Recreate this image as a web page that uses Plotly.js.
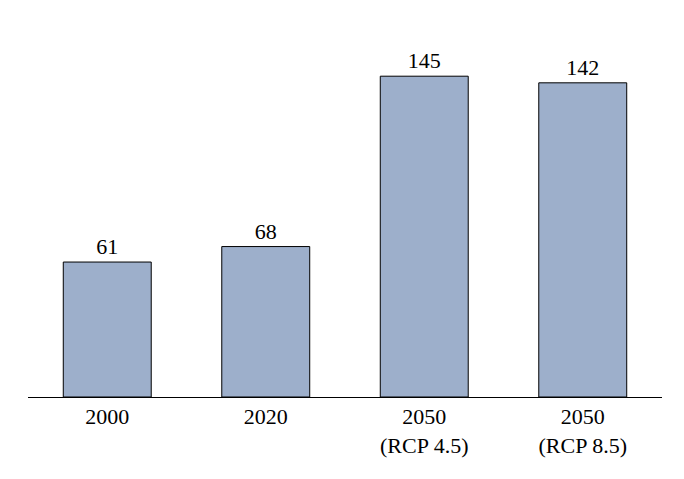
<!DOCTYPE html>
<html>
<head>
<meta charset="utf-8">
<script src="https://cdn.plot.ly/plotly-3.0.1.min.js"></script>
<style>html,body{margin:0;padding:0;background:#fff;}</style>
</head>
<body>
<div id="chart" style="width:684px;height:479px;"></div>
<script>
var categories = ["2000", "2020", "2050<br>(RCP 4.5)", "2050<br>(RCP 8.5)"];
var values = [61, 68, 145, 142];
var valueLabels = ["61", "68", "145", "142"];

var trace = {
  type: "bar",
  x: categories,
  y: values,
  text: valueLabels,
  textposition: "outside",
  cliponaxis: false,
  textfont: {family: "Liberation Serif, DejaVu Serif, serif", size: 22, color: "#000"},
  marker: {color: "#9dafcb", line: {color: "#000", width: 1}},
  hoverinfo: "none"
};

var layout = {
  width: 684,
  height: 479,
  margin: {l: 28, r: 22, t: 43, b: 82},
  paper_bgcolor: "#fff",
  plot_bgcolor: "#fff",
  bargap: 0.445,
  showlegend: false,
  font: {family: "Liberation Serif, DejaVu Serif, serif", size: 22, color: "#000"},
  xaxis: {
    type: "category",
    showline: true,
    linecolor: "#000",
    linewidth: 1,
    ticks: "",
    showgrid: false,
    zeroline: false,
    tickfont: {family: "Liberation Serif, DejaVu Serif, serif", size: 22, color: "#000"}
  },
  yaxis: {
    range: [0, 160],
    visible: false,
    showgrid: false,
    zeroline: false
  }
};

Plotly.newPlot("chart", [trace], layout, {staticPlot: true, displayModeBar: false});
</script>
</body>
</html>
